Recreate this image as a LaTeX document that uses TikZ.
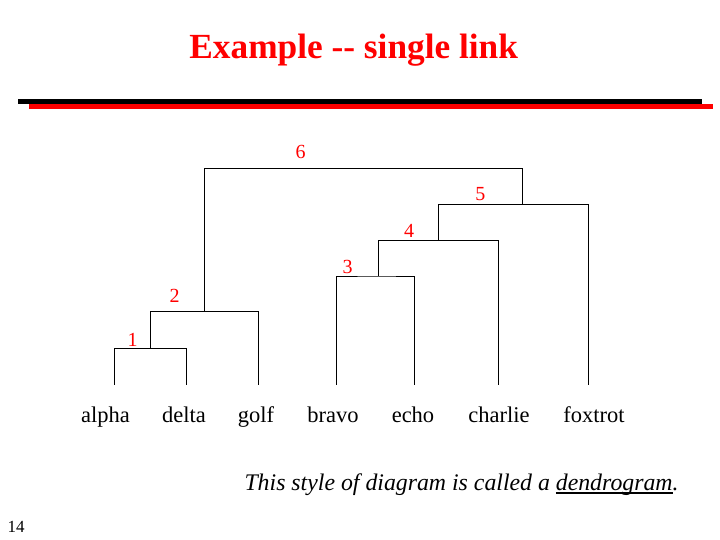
\documentclass[tikz,border=0pt]{standalone}
\usepackage{fontspec}
\setmainfont{Liberation Serif}
\usetikzlibrary{positioning}
\definecolor{slRed}{HTML}{FF0000}
\tikzset{
  branch/.style   = {line width=0.9pt, black},
  titlelbl/.style = {font=\fontsize{35.3}{42}\selectfont\bfseries, slRed,
                     anchor=base, inner sep=0pt},
  leaflbl/.style  = {font=\fontsize{22.5}{27}\selectfont, anchor=base, inner sep=0pt},
  steplbl/.style  = {font=\fontsize{20}{24}\selectfont, slRed, anchor=base, inner sep=0pt},
  notelbl/.style  = {font=\fontsize{23.8}{28}\selectfont\itshape, anchor=base west, inner sep=0pt},
  pagelbl/.style  = {font=\fontsize{17}{20}\selectfont, anchor=base west, inner sep=0pt},
}
\newcommand\ulword[1]{\setbox0\hbox{#1}\rlap{\rule[-4.2pt]{\wd0}{2.2pt}}\box0}

\begin{document}
\begin{tikzpicture}[x=1pt, y=-1pt]
  \useasboundingbox (0,0) rectangle (720,540);

  % title and rule bars
  \node[titlelbl] (title) at (353.7,58.3) {Example -{}- single link};
  \fill[black]  (18,99)  rectangle (702,104);
  \fill[slRed]  (29,104) rectangle (713,109.5);

  % leaf tops and merge points
  \coordinate (t-alpha)   at (114,384.7);
  \coordinate (t-delta)   at (186,384.7);
  \coordinate (t-golf)    at (258,384.7);
  \coordinate (t-bravo)   at (336,384.7);
  \coordinate (t-echo)    at (414,384.7);
  \coordinate (t-charlie) at (498,384.7);
  \coordinate (t-foxtrot) at (588,384.7);
  \coordinate (m1) at (150,348.3);
  \coordinate (m2) at (204,311.3);
  \coordinate (m3) at (378,276);
  \coordinate (m4) at (438,240.3);
  \coordinate (m5) at (522,204.3);
  \coordinate (m6) at (363,168.3);

  \draw[branch] (t-alpha) |- (m1) -| (t-delta);
  \draw[branch] (m1) |- (m2) -| (t-golf);
  \draw[branch] (t-bravo) |- (m3) -| (t-echo);
  \draw[branch] (m3) |- (m4) -| (t-charlie);
  \draw[branch] (m4) |- (m5) -| (t-foxtrot);
  \draw[branch] (m2) |- (m6) -| (m5);

  \foreach \name/\x in {alpha/105.5, delta/184, golf/256, bravo/333,
                        echo/413, charlie/499, foxtrot/594}
    \node[leaflbl] (\name) at (\x,422) {\name};

  \foreach \k/\x/\y in {1/132.7/346.7, 2/174.7/302.7, 3/347.7/273.3,
                        4/409/237.3, 5/480.3/201, 6/300.7/159}
    \node[steplbl] (s\k) at (\x,\y) {\k};

  \node[notelbl] (note) at (244.3,490)
    {This style of diagram is called a \ulword{dendrogram}.};
  \node[pagelbl] (page) at (7.3,532.3) {14};
\end{tikzpicture}
\end{document}
